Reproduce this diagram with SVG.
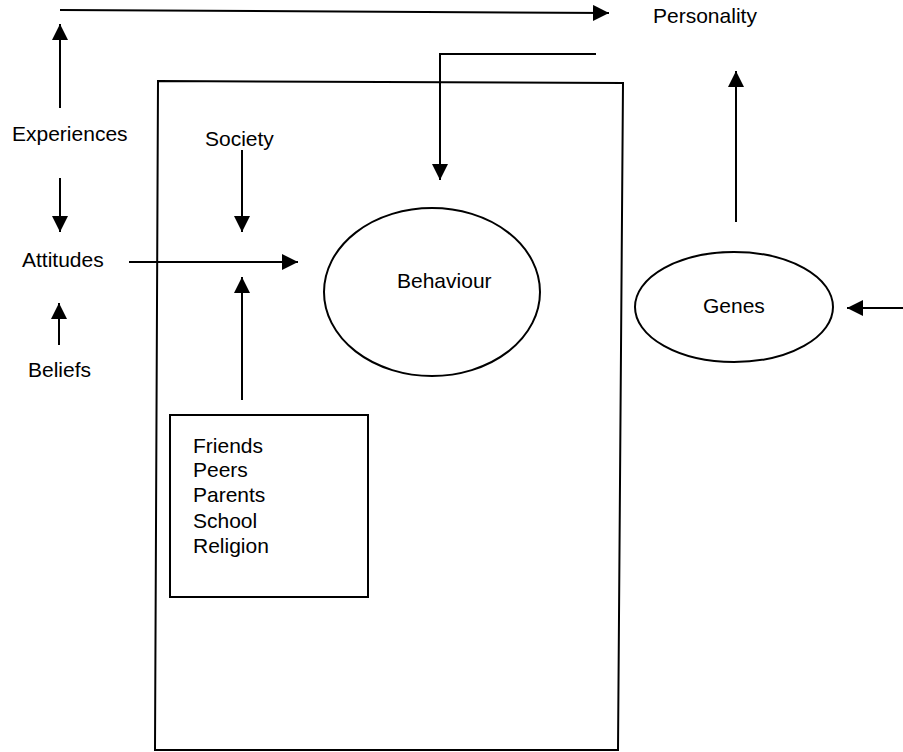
<svg xmlns="http://www.w3.org/2000/svg" width="903" height="752" viewBox="0 0 903 752">
  <defs>
    <marker id="head" viewBox="0 0 16 16" refX="16" refY="8" markerWidth="16" markerHeight="16" markerUnits="userSpaceOnUse" orient="auto">
      <path d="M0,0 L16,8 L0,16 Z" fill="#000"/>
    </marker>
  </defs>
  <style>
    .lbl { font-family: "Liberation Sans", Arial, Helvetica, sans-serif; font-size: 21px; fill: #000; }
    .edge { fill: none; stroke: #000; stroke-width: 2; }
    .shape { fill: none; stroke: #000; stroke-width: 2; }
  </style>
  <rect width="903" height="752" fill="#fff"/>

  <!-- outer frame around the social influences -->
  <g id="frame">
    <path class="shape" d="M158,81 L623,83 L618,750 L155,750 Z"/>
  </g>

  <g id="personality">
    <text class="lbl" x="653" y="23">Personality</text>
  </g>
  <g id="experiences">
    <text class="lbl" x="12" y="141">Experiences</text>
  </g>
  <g id="society">
    <text class="lbl" x="205" y="146">Society</text>
  </g>
  <g id="attitudes">
    <text class="lbl" x="22" y="267">Attitudes</text>
  </g>
  <g id="beliefs">
    <text class="lbl" x="28" y="377">Beliefs</text>
  </g>
  <g id="behaviour">
    <ellipse class="shape" cx="432" cy="292" rx="108" ry="84"/>
    <text class="lbl" x="397" y="288">Behaviour</text>
  </g>
  <g id="genes">
    <ellipse class="shape" cx="734" cy="307" rx="99" ry="55"/>
    <text class="lbl" x="703" y="313">Genes</text>
  </g>
  <g id="influences">
    <rect class="shape" x="170" y="415" width="198" height="182"/>
    <text class="lbl" x="193" y="453">Friends</text>
    <text class="lbl" x="193" y="477">Peers</text>
    <text class="lbl" x="193" y="502">Parents</text>
    <text class="lbl" x="193" y="528">School</text>
    <text class="lbl" x="193" y="553">Religion</text>
  </g>

  <g id="connectors">
    <!-- top: experiences to personality -->
    <line class="edge" x1="60" y1="10" x2="609" y2="13" marker-end="url(#head)"/>
    <line class="edge" x1="60" y1="108" x2="60" y2="24" marker-end="url(#head)"/>
    <!-- personality feeding back into behaviour -->
    <path class="edge" d="M596,54 L440,54 L440,180" marker-end="url(#head)"/>
    <!-- genes to personality -->
    <line class="edge" x1="736" y1="222" x2="736" y2="71" marker-end="url(#head)"/>
    <!-- external input to genes -->
    <line class="edge" x1="903" y1="308" x2="847" y2="308" marker-end="url(#head)"/>
    <!-- experiences to attitudes -->
    <line class="edge" x1="60" y1="178" x2="60" y2="232" marker-end="url(#head)"/>
    <!-- beliefs to attitudes -->
    <line class="edge" x1="59" y1="345" x2="59" y2="303" marker-end="url(#head)"/>
    <!-- attitudes to behaviour -->
    <line class="edge" x1="129" y1="262" x2="298" y2="262" marker-end="url(#head)"/>
    <!-- society down -->
    <line class="edge" x1="242" y1="150" x2="242" y2="232" marker-end="url(#head)"/>
    <!-- influences up -->
    <line class="edge" x1="242" y1="400" x2="242" y2="277" marker-end="url(#head)"/>
  </g>
</svg>
